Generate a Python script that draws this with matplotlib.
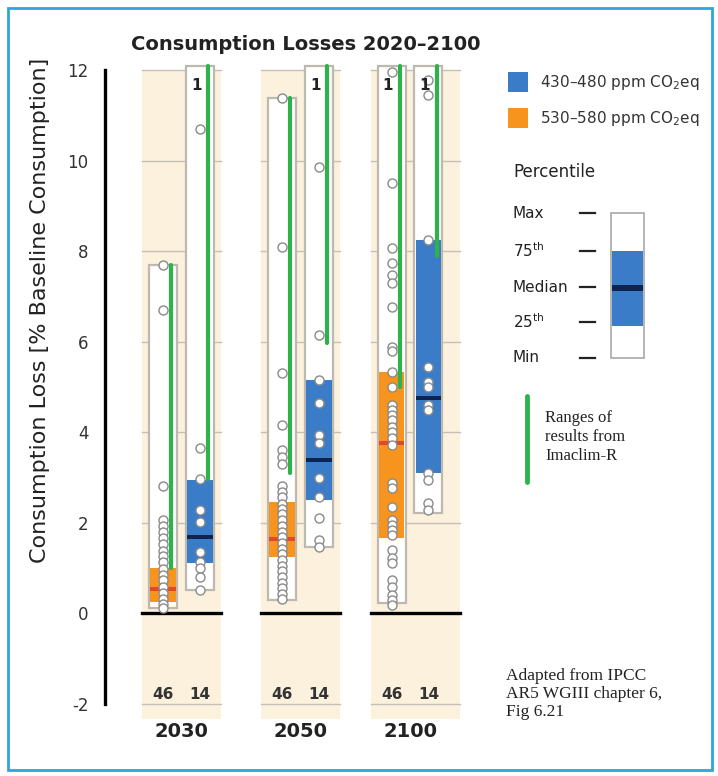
import numpy as np
import matplotlib.pyplot as plt
from matplotlib.patches import Rectangle

# =============================================
#                    DATOS
# =============================================

years = ['2030', '2050', '2100']
n_530 = ['46', '46', '46']
n_430 = ['14', '14', '14']

# min, p25, mediana, p75, max   (12.1 = sale por arriba del gráfico)
stats_530 = [[0.10, 0.24, 0.53, 0.99, 7.70],
             [0.29, 1.24, 1.64, 2.45, 11.38],
             [0.22, 1.66, 3.76, 5.33, 12.10]]
stats_430 = [[0.50, 1.10, 1.68, 2.94, 12.10],
             [1.46, 2.50, 3.38, 5.15, 12.10],
             [2.21, 3.09, 4.75, 8.24, 12.10]]

# modelos fuera de escala (> 12)
off_530 = [0, 0, 1]
off_430 = [1, 1, 1]

# rangos Imaclim-R
imaclim_530 = [(1.00, 7.70), (3.10, 11.38), (5.00, 12.10)]
imaclim_430 = [(2.96, 12.10), (5.97, 12.10), (7.90, 12.10)]

# resultados individuales
pts_530 = [
    [7.70, 6.70, 2.80, 2.05, 1.92, 1.78, 1.65, 1.52, 1.38, 1.25, 1.12, 0.98,
     0.85, 0.72, 0.58, 0.45, 0.32, 0.20, 0.11],
    [11.38, 8.09, 5.30, 4.15, 3.60, 3.45, 3.30, 2.80, 2.67, 2.56, 2.42, 2.30,
     2.18, 2.05, 1.93, 1.80, 1.68, 1.55, 1.42, 1.30, 1.17, 1.04, 0.92, 0.80,
     0.67, 0.55, 0.42, 0.30],
    [11.95, 9.50, 8.07, 7.73, 7.47, 7.29, 6.76, 5.88, 5.78, 5.33, 5.00, 4.60,
     4.49, 4.38, 4.27, 4.11, 4.00, 3.87, 3.71, 2.87, 2.76, 2.34, 2.06, 1.94,
     1.83, 1.72, 1.39, 1.22, 1.10, 0.73, 0.57, 0.40, 0.29, 0.18],
]
pts_430 = [
    [10.70, 3.65, 2.96, 2.28, 2.01, 1.35, 1.13, 0.99, 0.80, 0.51],
    [9.86, 6.14, 5.15, 4.64, 3.93, 3.76, 2.98, 2.56, 2.10, 1.61, 1.46],
    [11.78, 11.45, 8.24, 5.44, 5.10, 5.00, 4.60, 4.49, 3.09, 2.94, 2.43, 2.28],
]

yticks = [-2, 0, 2, 4, 6, 8, 10, 12]

# =============================================
#                  ESTILO
# =============================================

orange = '#f7941d'
blue = '#3b7cc9'
red = '#e2472b'
navy = '#0e2450'
green = '#2db34a'
beige = '#fcf1dc'
edge = '#bdb8b0'

group_x = [0, 1, 1.92]
panel_w = [(0.33, 0.33), (0.33, 0.33), (0.33, 0.42)]
off = 0.155
bw = 0.235
gx = 0.07

fig = plt.figure(figsize=(7.18, 7.76), dpi=100)
ax = fig.add_axes([105/718, 0.0701, 370/718, 0.8513])
ax.set_xlim(-0.643, 2.466)
ax.set_ylim(-2.4, 12.2)

for s in ['top', 'right', 'bottom']:
    ax.spines[s].set_visible(False)
ax.spines['left'].set_bounds(-2, 12)
ax.spines['left'].set_linewidth(2.4)
ax.set_xticks([])
ax.set_yticks(yticks)
ax.set_yticklabels([str(t) for t in yticks], fontsize=12, color='#333333')
ax.tick_params(axis='y', length=0, pad=12)
ax.patch.set_alpha(0)


def draw_box(x, st, col, mcol, pts, rng, nlab, noff):
    lo, q1, med, q3, hi = st
    ax.add_patch(Rectangle((x - bw/2, lo), bw, hi - lo, fc='white',
                           ec=edge, lw=1.6, zorder=2))
    ax.add_patch(Rectangle((x - bw/2 + 0.01, q1), bw - 0.02, q3 - q1,
                           fc=col, ec='none', zorder=3))
    ax.add_patch(Rectangle((x - bw/2 + 0.01, med - 0.05), bw - 0.02, 0.1,
                           fc=mcol, ec='none', zorder=3.5))
    ax.plot([x + gx, x + gx], rng, color=green, lw=3, zorder=4,
            solid_capstyle='round')
    ax.plot(np.full(len(pts), x), pts, 'o', ms=6.5, mfc='white',
            mec='#8a8a8a', mew=1, zorder=5)
    if noff:
        ax.text(x - 0.03, 11.65, str(noff), ha='center', va='center',
                fontsize=11, fontweight='bold', color='#222222', zorder=6)
    ax.text(x, -1.8, nlab, ha='center', va='center', fontsize=11,
            fontweight='bold', color='#333333', zorder=6)


for i, x0 in enumerate(group_x):
    wl, wr = panel_w[i]
    ax.add_patch(Rectangle((x0 - wl, -2.35), wl + wr, 14.35, fc=beige,
                           ec='none', zorder=0))
    for t in yticks:
        ax.plot([x0 - wl, x0 + wr], [t, t], color='#c4c0b8', lw=1,
                zorder=0.5)
    ax.plot([x0 - wl, x0 + wr], [0, 0], color='black', lw=2.4, zorder=1)
    draw_box(x0 - off, stats_530[i], orange, red, pts_530[i], imaclim_530[i],
             n_530[i], off_530[i])
    draw_box(x0 + off, stats_430[i], blue, navy, pts_430[i], imaclim_430[i],
             n_430[i], off_430[i])
    ax.text(x0, -2.62, years[i], ha='center', va='center', fontsize=14,
            fontweight='bold', color='#222222', clip_on=False)

fig.text(40/718, 1 - 310/776, 'Consumption Loss [% Baseline Consumption]',
         rotation=90, ha='center', va='center', fontsize=16, color='#222222')
fig.text(306/718, 1 - 45/776, 'Consumption Losses 2020–2100', ha='center',
         va='center', fontsize=14, fontweight='bold', color='#222222')

# =============================================
#             LEYENDA Y MARCO
# =============================================

ov = fig.add_axes([0, 0, 1, 1])
ov.set_xlim(0, 718)
ov.set_ylim(776, 0)
ov.axis('off')
ov.patch.set_alpha(0)

ov.add_patch(Rectangle((8, 8), 704, 762, fc='none', ec='#2fa6d6', lw=2))

ov.add_patch(Rectangle((508, 72), 20, 20, fc=blue, ec='none'))
ov.add_patch(Rectangle((508, 108), 20, 20, fc=orange, ec='none'))
ov.text(540, 82, '430–480 ppm CO$_2$eq', va='center', fontsize=11,
        color='#333333')
ov.text(540, 118, '530–580 ppm CO$_2$eq', va='center', fontsize=11,
        color='#333333')
ov.text(513, 172, 'Percentile', va='center', fontsize=12, color='#222222')

plabels = ['Max', '75$^{\\mathregular{th}}$', 'Median',
           '25$^{\\mathregular{th}}$', 'Min']
py = [213, 251, 287, 322, 358]
for lab, yy in zip(plabels, py):
    ov.text(513, yy, lab, va='center', fontsize=11, color='#222222')
    ov.plot([580, 595], [yy, yy], color='#222222', lw=1.6)
ov.add_patch(Rectangle((611, 213), 33, 145, fc='white', ec='#a8a8a8', lw=1.2))
ov.add_patch(Rectangle((611.6, 251), 31.8, 75, fc=blue, ec='none'))
ov.add_patch(Rectangle((611.6, 284.5), 31.8, 6, fc=navy, ec='none'))

ov.plot([527, 527], [396, 482], color=green, lw=3.5, solid_capstyle='round')
ov.text(545, 437, 'Ranges of\nresults from\nImaclim-R', va='center',
        fontsize=12, family='Liberation Serif', color='#222222',
        linespacing=1.25)
ov.text(506, 694, 'Adapted from IPCC\nAR5 WGIII chapter 6,\nFig 6.21',
        va='center', fontsize=12.5, family='Liberation Serif',
        color='#222222', linespacing=1.2)

plt.savefig('out.png', dpi=100)
